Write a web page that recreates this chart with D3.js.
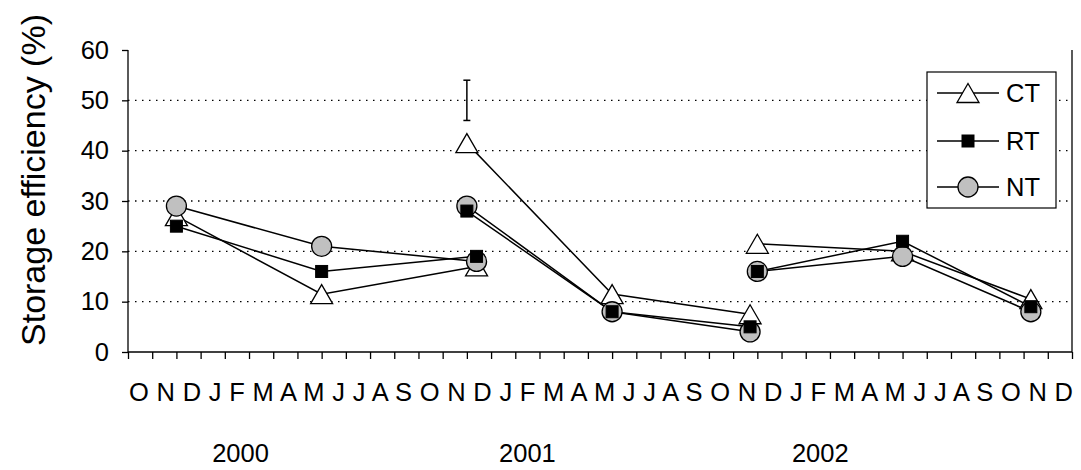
<!DOCTYPE html>
<html>
<head>
<meta charset="utf-8">
<script src="https://cdn.jsdelivr.net/npm/d3@7"></script>
<style>
  html, body { margin: 0; padding: 0; background: #fff; }
  svg { display: block; font-family: Arial, "Liberation Sans", sans-serif; }
</style>
</head>
<body>
<svg id="chart" width="1081" height="470"></svg>
<script>
// Sampling positions on the time axis (axis units, one tick per month)
const sampleX = [
  [2, 8, 14.4],
  [14, 20, 25.7],
  [26, 32, 37.3]
];
// Storage efficiency (%) per treatment, one array per sampling period
const ctValues = [[27, 11.5, 17], [41.5, 11.5, 7.5], [21.5, 20, 10.5]];
const rtValues = [[25, 16, 19], [28, 8, 5], [16, 22, 9]];
const ntValues = [[29, 21, 18], [29, 8, 4], [16, 19, 8]];
// Error bar drawn above the CT autumn 2001 sample
const errorBar = { x: 14, low: 46, high: 54 };

const yTicks = [0, 10, 20, 30, 40, 50, 60];
const gridValues = [10, 20, 30, 40, 50];
const monthLabels = ["O","N","D",
  "J","F","M","A","M","J","J","A","S","O","N","D",
  "J","F","M","A","M","J","J","A","S","O","N","D",
  "J","F","M","A","M","J","J","A","S","O","N","D"];
const yearLabels = ["2000", "2001", "2002"];
const yearPos = [4.65, 16.5, 28.6];
const seriesNames = ["CT", "RT", "NT"];

const svg = d3.select("#chart");
const x = d3.scaleLinear().domain([0, 39]).range([128, 1072]);
const y = d3.scaleLinear().domain([0, 60]).range([352, 50]);
const FONT = 25.5;

// dotted horizontal gridlines
svg.append("g").selectAll("line").data(gridValues).join("line")
  .attr("x1", x(0)).attr("x2", x(39))
  .attr("y1", d => y(d)).attr("y2", d => y(d))
  .attr("stroke", "#000").attr("stroke-width", 1.3)
  .attr("stroke-dasharray", "1.5,5.5");

// right border of the plot area
svg.append("line")
  .attr("x1", x(39)).attr("x2", x(39)).attr("y1", y(60)).attr("y2", y(0))
  .attr("stroke", "#000").attr("stroke-width", 1.3);

// axes
const yAxis = svg.append("g").attr("transform", `translate(${x(0)},0)`)
  .call(d3.axisLeft(y).tickValues(yTicks).tickSize(6).tickPadding(13).tickFormat(d3.format("d")));
const xAxis = svg.append("g").attr("transform", `translate(0,${y(0)})`)
  .call(d3.axisBottom(x).tickValues(d3.range(0, 40)).tickSize(7).tickFormat(""));
[yAxis, xAxis].forEach(g => {
  g.select(".domain").attr("stroke", "#000").attr("stroke-width", 1.3);
  g.selectAll(".tick line").attr("stroke", "#000").attr("stroke-width", 1.3);
});
yAxis.select(".domain").attr("d", `M-0,${y(60)}H0V${y(0)}`);
xAxis.select(".domain").attr("d", `M${x(0)},0H${x(39)}`);
yAxis.selectAll(".tick text").attr("font-size", FONT).attr("fill", "#000")
  .attr("font-family", "Arial, 'Liberation Sans', sans-serif");

// month letters along the bottom
svg.append("text")
  .attr("x", 129).attr("y", 401)
  .attr("font-size", FONT)
  .attr("textLength", 944).attr("lengthAdjust", "spacing")
  .text(monthLabels.join(" "));

// years
svg.append("g").selectAll("text").data(yearLabels).join("text")
  .attr("x", (d, i) => x(yearPos[i])).attr("y", 462)
  .attr("text-anchor", "middle").attr("font-size", FONT)
  .text(d => d);

// y-axis title
svg.append("text")
  .attr("transform", "translate(45,180) rotate(-90)")
  .attr("text-anchor", "middle").attr("font-size", 34)
  .text("Storage efficiency (%)");

// error bar
const eb = svg.append("g").attr("stroke", "#000").attr("stroke-width", 1.5);
eb.append("line").attr("x1", x(errorBar.x)).attr("x2", x(errorBar.x))
  .attr("y1", y(errorBar.low)).attr("y2", y(errorBar.high));
[errorBar.low, errorBar.high].forEach(v => {
  eb.append("line").attr("x1", x(errorBar.x) - 3.5).attr("x2", x(errorBar.x) + 3.5)
    .attr("y1", y(v)).attr("y2", y(v));
});

// marker shapes
const triPath = "M0,-9.5L11,9.5L-11,9.5Z";
function drawMarker(g, type, cx, cy) {
  if (type === "CT") {
    g.append("path").attr("d", triPath).attr("transform", `translate(${cx},${cy})`)
      .attr("fill", "#fff").attr("stroke", "#000").attr("stroke-width", 1.3);
  } else if (type === "RT") {
    g.append("rect").attr("x", cx - 6).attr("y", cy - 6).attr("width", 12).attr("height", 12)
      .attr("fill", "#000").attr("stroke", "#000").attr("stroke-width", 1);
  } else {
    g.append("circle").attr("cx", cx).attr("cy", cy).attr("r", 10)
      .attr("fill", "#c0c0c0").attr("stroke", "#000").attr("stroke-width", 1.3);
  }
}

const series = { CT: ctValues, RT: rtValues, NT: ntValues };
const line = d3.line().x(d => x(d[0])).y(d => y(d[1]));
const drawOrder = ["CT", "NT", "RT"];

// connecting lines
const linesG = svg.append("g");
drawOrder.forEach(name => {
  series[name].forEach((vals, gi) => {
    const pts = vals.map((v, i) => [sampleX[gi][i], v]);
    linesG.append("path").attr("d", line(pts))
      .attr("fill", "none").attr("stroke", "#000").attr("stroke-width", 1.5);
  });
});

// markers
const markG = svg.append("g");
drawOrder.forEach(name => {
  series[name].forEach((vals, gi) => {
    vals.forEach((v, i) => drawMarker(markG, name, x(sampleX[gi][i]), y(v)));
  });
});

// legend
const lg = svg.append("g");
lg.append("rect").attr("x", 927).attr("y", 72).attr("width", 129).attr("height", 136)
  .attr("fill", "#fff").attr("stroke", "#000").attr("stroke-width", 1.2);
const legendY = [93, 141, 187];
seriesNames.forEach((name, i) => {
  const ly = legendY[i];
  lg.append("line").attr("x1", 937).attr("x2", 999).attr("y1", ly).attr("y2", ly)
    .attr("stroke", "#000").attr("stroke-width", 1.5);
  drawMarker(lg, name, 968, ly);
  lg.append("text").attr("x", 1006).attr("y", ly + 9).attr("font-size", FONT).text(name);
});
</script>
</body>
</html>
